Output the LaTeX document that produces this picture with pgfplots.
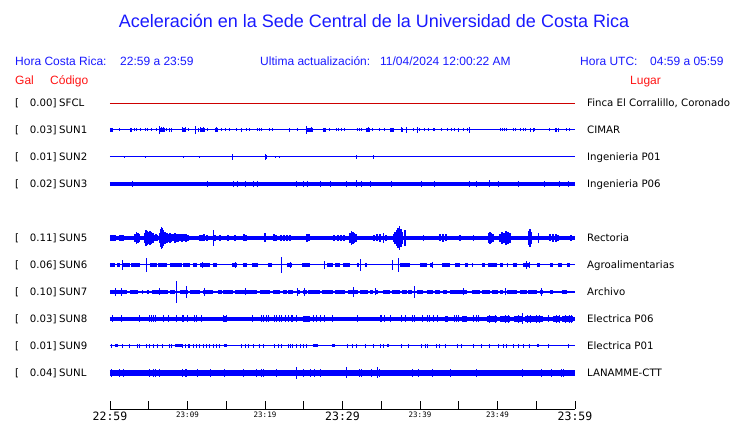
\documentclass[border=0pt]{standalone}
\usepackage{fontspec}
\setmainfont{Liberation Sans}
\newfontfamily\dejavu{DejaVu Sans}
\newfontfamily\dmono{DejaVu Sans Mono}
\usepackage{pgfplots}
\usepackage{pgfplotstable}
\pgfplotsset{compat=1.18}

\definecolor{trace}{RGB}{0,0,255}
\definecolor{txtblue}{RGB}{25,25,255}
\definecolor{txtred}{RGB}{255,20,20}
\definecolor{sfcl}{RGB}{205,0,0}

\newcommand\bigt{\dmono\fontsize{11.5}{12}\selectfont}
\newcommand\smallt{\dmono\fontsize{7.5}{8}\selectfont}

\pgfplotsset{
  spikes/.style={trace, draw=none, mark=none,
    error bars/.cd, y dir=both, y explicit, error mark=none,
    error bar style={draw=trace, line width=#1}},
  spikes/.default=1pt,
  dashes/.style={trace, draw=none, mark=none,
    error bars/.cd, x dir=both, x explicit, error mark=none,
    error bar style={draw=trace, line width=#1}},
}

% time in minutes after 22:59, a = half amplitude, w = half length of a burst
\pgfplotstableread[row sep=\\]{t a\\
0.13 2\\ 1.2 1.5\\ 2.67 2\\ 3.13 1.5\\ 3.45 1.5\\ 3.96 1.5\\ 4.52 1.5\\ 4.86 1.5\\ 5.38 1.5\\ 6.03 1.5\\
6.36 4\\ 6.67 2.5\\ 6.88 2.5\\ 7.32 1.5\\ 7.74 2\\ 7.96 2\\ 9.38 2.5\\ 9.68 2.5\\ 10.1 1.5\\ 11.0 4\\
11.39 2\\ 11.74 2.5\\ 12.04 2.5\\ 12.55 1.5\\ 13.77 2.5\\ 14.41 1.5\\ 14.84 1.5\\ 15.39 1.5\\ 16.35 1.5\\ 16.99 2\\
17.64 1.5\\ 18.06 1.5\\ 19.06 1.5\\ 19.35 1.5\\ 19.57 1.5\\ 20.64 1.5\\ 20.99 1.5\\ 23.13 2\\ 24.22 1.5\\ 25.38 4\\
25.94 2.5\\ 27.65 2\\ 28.26 1.5\\ 29.25 1.5\\ 29.54 1.5\\ 29.89 1.5\\ 30.32 1.5\\ 31.9 1.5\\ 32.16 1.5\\ 32.47 1.5\\
33.32 2.5\\ 33.84 1.5\\ 34.83 1.5\\ 35.38 1.5\\ 36.47 2\\ 37.63 2.5\\ 38.27 3\\ 39.22 1.5\\ 39.64 3\\ 39.99 1.5\\
40.64 1.5\\ 41.06 1.5\\ 41.71 1.5\\ 41.93 1.5\\ 42.79 1.5\\ 43.51 1.5\\ 44.08 1.5\\ 44.51 1.5\\ 45.02 2\\ 45.58 1.5\\
46.14 1.5\\ 46.44 3\\ 50.4 1.5\\ 50.66 1.5\\ 50.96 1.5\\ 51.17 1.5\\ 52.12 1.5\\ 52.34 1.5\\ 52.98 1.5\\ 53.32 1.5\\
53.63 1.5\\ 54.31 2\\ 54.61 2\\ 54.83 1.5\\ 56.67 1.5\\ 57.53 2\\ 57.83 2\\ 58.91 1.5\\ 59.34 1.5\\
}\sunonesp
\pgfplotstableread[row sep=\\]{t w\\
0.19 0.19\\ 2.71 0.13\\ 6.77 0.32\\ 9.55 0.26\\ 11.94 0.32\\ 13.74 0.2\\ 25.81 0.39\\ 27.68 0.2\\ 33.29 0.2\\ 36.39 0.26\\
37.68 0.13\\ 57.55 0.13\\
}\sunoneds

\pgfplotstableread[row sep=\\]{t a\\
1.84 1\\ 4.55 1\\ 9.46 1\\ 11.61 1\\ 15.78 3\\ 20.09 3\\ 20.22 2\\ 21.38 1\\ 21.93 1\\ 31.83 2\\ 33.97 2\\
}\suntwosp

\pgfplotstableread[row sep=\\]{t a\\
2.88 2.6\\ 12.55 2.6\\ 16.0 2.6\\ 16.43 2.6\\ 17.51 2.6\\ 18.58 2.6\\ 19.0 2.6\\ 24.09 2.6\\ 25.03 2.6\\ 25.46 2.6\\
27.19 2.6\\ 28.39 2.6\\ 30.54 2.6\\ 31.83 3.5\\ 32.48 2.6\\ 33.55 2.6\\ 36.35 2.6\\ 40.22 2.6\\ 41.93 2.6\\ 46.44 2.6\\
47.31 2.6\\ 48.94 3.5\\ 50.1 2.6\\ 52.68 2.6\\ 56.12 2.6\\ 58.06 2.6\\ 59.13 2.6\\
}\sunthreesp

\pgfplotstableread[row sep=\\]{t a\\
0.06 2.8\\ 0.26 2.8\\ 0.45 2.8\\ 0.65 2.8\\ 1.29 3\\ 1.48 3\\ 1.68 3\\ 3.23 4\\ 3.42 6\\ 3.61 5\\
3.81 4\\ 4.52 5\\ 4.65 8\\ 4.77 7\\ 4.90 6\\ 5.03 5\\ 5.16 7\\ 5.29 6\\ 5.42 4\\ 5.55 5\\
5.68 3\\ 5.94 3.5\\ 6.13 3\\ 6.39 5\\ 6.52 9\\ 6.65 11\\ 6.77 10\\ 6.90 8\\ 7.03 6\\ 7.16 6\\
7.35 5\\ 7.55 4\\ 7.74 5\\ 7.94 4\\ 8.13 3.5\\ 8.39 5\\ 8.58 4\\ 8.77 4\\ 9.03 3.5\\ 9.29 4\\
9.55 3.5\\ 9.81 4\\ 10.06 3\\ 11.61 3\\ 11.87 3\\ 12.13 3.5\\ 12.52 3\\ 13.35 8\\ 13.55 3\\ 14.19 3\\
15.23 3\\ 16.13 3\\ 17.29 3.5\\ 17.55 3\\ 20.0 4.5\\ 21.16 3.5\\ 21.42 3\\ 22.06 3\\ 22.45 3\\ 22.84 3\\
23.23 3\\ 25.42 4\\ 25.68 3.5\\ 28.90 3\\ 29.42 3\\ 29.81 3\\ 30.19 3\\ 30.97 5\\ 31.16 7\\ 31.35 6\\
31.55 5\\ 31.74 4\\ 34.06 3\\ 34.45 3.5\\ 34.84 4\\ 35.29 5\\ 35.61 3\\ 36.58 4\\ 36.77 6\\ 36.97 8\\
37.16 10\\ 37.35 12\\ 37.55 9\\ 37.74 6\\ 38.06 8\\ 40.43 3\\ 42.58 3.5\\ 42.97 4\\ 43.35 3.5\\ 45.16 3\\
46.88 3\\ 48.84 5\\ 49.03 6\\ 49.23 5\\ 49.42 4\\ 50.32 4\\ 50.58 6\\ 50.84 5\\ 51.10 7\\ 51.35 6\\
51.61 5\\ 54.00 7\\ 54.19 9\\ 54.39 6\\ 55.26 5\\ 56.77 3.5\\ 57.16 4\\ 57.55 4\\ 57.81 3\\ 59.48 3\\
}\sunfivesp

\pgfplotstableread[row sep=\\]{t w\\
0.32 0.32\\ 1.08 0.21\\ 2.05 0.54\\ 3.29 0.58\\ 5.59 0.43\\ 6.77 0.54\\ 8.50 0.75\\ 9.89 0.43\\ 10.97 0.22\\ 12.26 0.65\\
13.55 0.22\\ 16.03 0.32\\ 17.42 0.22\\ 18.71 0.43\\ 20.65 0.22\\ 23.12 0.32\\ 25.27 0.54\\ 28.39 0.43\\ 29.35 0.32\\ 30.54 0.43\\
31.94 0.1\\ 33.01 0.11\\ 38.06 0.65\\ 40.43 0.43\\ 41.50 0.21\\ 43.34 0.54\\ 44.84 0.32\\ 46.02 0.21\\ 46.77 0.1\\ 48.17 0.21\\
49.35 0.54\\ 50.54 0.21\\ 51.29 0.1\\ 52.26 0.22\\ 53.76 0.43\\ 55.27 0.21\\ 56.99 0.21\\ 58.06 0.22\\ 59.14 0.21\\
}\sunsixds
\pgfplotstableread[row sep=\\]{t a\\
1.59 5\\ 4.74 7\\ 12.0 3\\ 16.13 3\\ 22.19 8\\ 23.23 3\\ 27.74 4\\ 32.35 6\\ 36.48 5\\ 37.2 7\\ 41.55 3\\ 53.68 4\\ 54.19 3\\
}\sunsixsp

\pgfplotstableread[row sep=\\]{t w\\
1.08 1.08\\ 3.12 0.54\\ 4.19 0.1\\ 4.84 0.1\\ 6.45 1.07\\ 8.06 0.32\\ 9.57 0.54\\ 10.97 0.65\\ 12.68 0.65\\ 14.19 0.22\\
15.26 0.65\\ 17.53 1.40\\ 20.0 0.65\\ 21.5 0.43\\ 22.58 0.22\\ 23.33 0.32\\ 24.30 0.21\\ 25.16 0.22\\ 26.34 0.75\\ 28.06 0.75\\
29.68 0.65\\ 31.39 0.65\\ 32.79 0.54\\ 33.76 0.21\\ 34.41 0.21\\ 35.70 0.43\\ 36.88 0.54\\ 37.96 0.32\\ 38.71 0.22\\ 40.0 0.43\\
41.29 0.43\\ 42.26 0.32\\ 43.23 0.22\\ 44.95 1.08\\ 47.21 0.54\\ 48.50 0.54\\ 49.68 0.43\\ 50.54 0.21\\ 51.83 0.65\\ 53.34 0.43\\
54.52 0.54\\ 55.70 0.21\\ 56.99 0.21\\ 58.61 0.32\\
}\sunsevends
\pgfplotstableread[row sep=\\]{t a\\
0.65 4\\ 1.51 4\\ 6.45 3.5\\ 8.61 11\\ 9.81 6\\ 12.13 4\\ 17.42 3.5\\ 24.13 4\\ 25.16 4\\ 31.39 5\\
34.32 3.5\\ 39.23 6\\ 45.55 3.5\\ 50.97 3.5\\ 55.74 4\\
}\sunsevensp

\pgfplotstableread[row sep=\\]{t a\\
0.30 3.5\\ 1.51 3.5\\ 3.78 3.5\\ 5.16 3.5\\ 5.38 3.5\\ 5.59 3.5\\ 5.81 3.5\\ 6.88 3.5\\ 7.52 3.5\\ 8.61 3.5\\
9.33 3.5\\ 9.46 3.5\\ 9.97 3.5\\ 10.88 3.5\\ 11.19 3.5\\ 11.83 3.5\\ 14.62 3.5\\ 15.06 3.5\\ 18.36 3.5\\ 19.57 3.5\\
19.87 3.5\\ 20.22 3.5\\ 20.43 3.5\\ 21.2 3.5\\ 21.51 3.5\\ 21.81 3.5\\ 22.15 3.5\\ 22.67 3.5\\ 23.0 3.5\\ 23.45 3.5\\
23.57 3.5\\ 24.09 3.5\\ 26.23 3.5\\ 26.67 3.5\\ 27.1 3.5\\ 27.65 3.5\\ 28.68 3.5\\ 31.91 3.5\\ 34.84 3.5\\ 35.06 3.5\\
35.48 3.5\\ 36.13 3.5\\ 37.64 3.5\\ 38.15 3.5\\ 39.06 3.5\\ 39.23 3.5\\ 40.35 3.5\\ 40.94 3.5\\ 41.29 3.5\\ 41.72 3.5\\
42.28 3.5\\ 44.39 3.5\\ 44.73 3.5\\ 45.03 3.5\\ 46.88 3.5\\ 47.32 3.5\\ 47.52 3.5\\ 49.03 4\\ 49.68 4\\ 50.97 4\\
51.48 4\\ 52.65 4\\ 53.29 5.5\\ 53.81 4\\ 54.32 4\\ 54.97 4\\ 55.48 4\\ 56.55 3.5\\ 57.55 4\\ 58.06 4\\
58.71 4\\ 59.23 4\\ 59.61 4\\
}\suneightsp
\pgfplotstableread[row sep=\\]{t w\\
14.84 0.22\\ 25.37 0.43\\ 43.44 0.21\\ 45.70 0.32\\ 49.29 0.65\\ 50.97 0.65\\ 52.65 0.52\\ 54.71 1.16\\ 57.61 0.45\\ 59.03 0.71\\
}\suneightds

\pgfplotstableread[row sep=\\]{t a\\
0.22 1.8\\ 1.64 1.8\\ 2.58 1.8\\ 3.57 1.8\\ 3.78 1.8\\ 4.74 1.8\\ 5.16 1.8\\ 5.59 1.8\\ 6.15 1.8\\ 6.8 1.8\\
7.65 1.8\\ 7.96 1.8\\ 9.38 1.8\\ 9.68 1.8\\ 10.1 1.8\\ 10.32 1.8\\ 10.75 1.8\\ 11.19 1.8\\ 11.61 1.8\\ 12.04 1.8\\
12.48 1.8\\ 12.9 1.8\\ 13.33 1.8\\ 13.77 1.8\\ 14.19 1.8\\ 16.99 1.8\\ 17.42 1.8\\ 17.84 1.8\\ 18.49 1.8\\ 19.26 1.8\\
19.87 1.8\\ 21.29 1.8\\ 21.72 1.8\\ 22.15 1.8\\ 23.0 1.8\\ 23.23 1.8\\ 23.57 1.8\\ 24.09 1.8\\ 24.64 1.8\\ 24.94 1.8\\
25.38 1.8\\ 30.62 1.8\\ 31.32 1.8\\ 31.83 1.8\\ 33.03 1.8\\ 33.97 1.8\\ 34.84 1.8\\ 35.26 1.8\\ 37.64 1.8\\ 38.49 1.8\\
40.22 1.8\\ 40.65 1.8\\ 40.94 1.8\\ 42.15 1.8\\ 42.58 1.8\\ 43.23 1.8\\ 44.81 1.8\\ 45.38 1.8\\ 46.88 1.8\\ 47.96 1.8\\
48.94 1.8\\ 50.1 1.8\\ 50.75 1.8\\ 51.17 1.8\\ 52.04 1.8\\ 52.68 1.8\\ 53.33 1.8\\ 54.19 1.8\\ 56.55 1.8\\ 59.13 1.8\\
}\sunninesp
\pgfplotstableread[row sep=\\]{t w\\
0.86 0.21\\ 8.82 0.43\\ 14.92 0.21\\ 26.52 0.36\\ 28.82 0.21\\ 35.81 0.1\\ 55.21 0.15\\
}\sunnineds

\pgfplotstableread[row sep=\\]{t a\\
0.22 4.3\\ 1.2 4.3\\ 1.72 4.3\\ 5.16 4.3\\ 5.59 4.3\\ 5.81 4.3\\ 6.45 4.3\\ 9.38 4.3\\ 9.68 4.3\\ 9.9 4.3\\
11.26 4.3\\ 13.03 4.3\\ 14.71 4.3\\ 17.2 4.3\\ 18.84 4.3\\ 19.57 4.3\\ 19.78 4.3\\ 21.42 4.3\\ 24.09 6\\ 24.94 4.3\\
25.81 4.3\\ 26.36 4.3\\ 27.1 4.3\\ 30.54 5.5\\ 32.17 4.3\\ 32.48 4.3\\ 33.77 4.3\\ 34.49 5.5\\ 34.75 4.3\\ 39.06 4.3\\
39.78 4.3\\ 41.64 4.3\\ 44.0 4.3\\ 47.29 4.3\\ 53.25 4.3\\ 55.7 4.3\\ 56.99 4.3\\ 58.28 4.3\\ 58.58 4.3\\
}\sunlsp

\begin{document}
\begin{tikzpicture}
% the axis sits at the picture origin; every text is placed in page pixels shifted to it
\begin{scope}[x=1pt, y=1pt, shift={(-110pt,-14pt)}]
\useasboundingbox (0,0) rectangle (740,423);

% titles
\node[anchor=base, txtblue, font=\fontsize{18}{20}\selectfont] at (374,395) {Aceleración en la Sede Central de la Universidad de Costa Rica};
\begin{scope}[every node/.style={anchor=base west, inner sep=0pt, font=\fontsize{12}{14}\selectfont}]
\node[txtblue] at (15,357.5) {Hora Costa Rica:};
\node[txtblue] at (120,357.5) {22:59 a 23:59};
\node[txtblue] at (260,357.5) {Ultima actualización:};
\node[txtblue] at (380,357.5) {11/04/2024 12:00:22 AM};
\node[txtblue] at (580,357.5) {Hora UTC:};
\node[txtblue] at (650,357.5) {04:59 a 05:59};
\node[txtred] at (15,338) {Gal};
\node[txtred] at (50,338) {Código};
\node[txtred] at (630,338) {Lugar};
\end{scope}

% station rows
\begin{scope}[every node/.style={inner sep=0pt, font=\dejavu\fontsize{10.2}{12}\selectfont}]
\foreach \yy/\gal/\code/\place in {
  316.3/0.00/SFCL/{Finca El Corralillo, Coronado},
  289.3/0.03/SUN1/CIMAR,
  262.3/0.01/SUN2/Ingenieria P01,
  235.3/0.02/SUN3/Ingenieria P06,
  181.3/0.11/SUN5/Rectoria,
  154.3/0.06/SUN6/Agroalimentarias,
  127.3/0.10/SUN7/Archivo,
  100.3/0.03/SUN8/Electrica P06,
  73.3/0.01/SUN9/Electrica P01,
  46.3/0.04/SUNL/LANAMME-CTT} {
  \node[anchor=base west] at (15,\yy) {[};
  \node[anchor=base east] at (56.7,\yy) {\gal]};
  \node[anchor=base west] at (59,\yy) {\code};
  \node[anchor=base west] at (587,\yy) {\place};
}
\end{scope}
\end{scope}

\begin{axis}[
  at={(0pt,0pt)}, anchor=south west,
  scale only axis, width=465pt, height=319pt,
  xmin=0, xmax=60, ymin=14, ymax=333,
  axis x line=bottom, axis y line=none,
  axis line style={-, black, line width=0.9pt},
  xtick={0,5,...,60},
  xticklabels={{\bigt 22:59},{},{\smallt 23:09},{},{\smallt 23:19},{},{\bigt 23:29},{},{\smallt 23:39},{},{\smallt 23:49},{},{\bigt 23:59}},
  tick align=inside, major tick length=8pt,
  tick style={black, line width=0.9pt},
  xticklabel style={anchor=north, inner sep=0pt, yshift=-2.5pt},
  clip=false,
]
% SFCL
\addplot[sfcl, line width=0.9pt] coordinates {(0,320) (60,320)};
% SUN1
\addplot[trace, line width=1pt] coordinates {(0,293) (60,293)};
\addplot[dashes=3.5pt] table[x=t, y expr=293, x error=w] {\sunoneds};
\addplot[spikes] table[x=t, y expr=293, y error=a] {\sunonesp};
% SUN2
\addplot[trace, line width=1pt] coordinates {(0,266) (60,266)};
\addplot[spikes] table[x=t, y expr=266, y error=a] {\suntwosp};
% SUN3
\addplot[trace, line width=3.5pt] coordinates {(0,239) (60,239)};
\addplot[spikes] table[x=t, y expr=239, y error=a] {\sunthreesp};
% SUN5
\addplot[trace, line width=4.6pt] coordinates {(0,185) (60,185)};
\addplot[spikes=1.2pt] table[x=t, y expr=185, y error=a] {\sunfivesp};
% SUN6
\addplot[trace, line width=1pt] coordinates {(0,158) (60,158)};
\addplot[dashes=4pt] table[x=t, y expr=158, x error=w] {\sunsixds};
\addplot[spikes] table[x=t, y expr=158, y error=a] {\sunsixsp};
% SUN7
\addplot[trace, line width=1.2pt] coordinates {(0,131) (60,131)};
\addplot[dashes=4pt] table[x=t, y expr=131, x error=w] {\sunsevends};
\addplot[spikes] table[x=t, y expr=131, y error=a] {\sunsevensp};
% SUN8
\addplot[trace, line width=3.8pt] coordinates {(0,104) (60,104)};
\addplot[dashes=6pt] table[x=t, y expr=104, x error=w] {\suneightds};
\addplot[spikes] table[x=t, y expr=104, y error=a] {\suneightsp};
% SUN9
\addplot[trace, line width=1pt] coordinates {(0,77) (60,77)};
\addplot[dashes=3pt] table[x=t, y expr=77, x error=w] {\sunnineds};
\addplot[spikes] table[x=t, y expr=77, y error=a] {\sunninesp};
% SUNL
\addplot[trace, line width=5.5pt] coordinates {(0,50) (60,50)};
\addplot[spikes] table[x=t, y expr=50, y error=a] {\sunlsp};
\end{axis}
\end{tikzpicture}
\end{document}
